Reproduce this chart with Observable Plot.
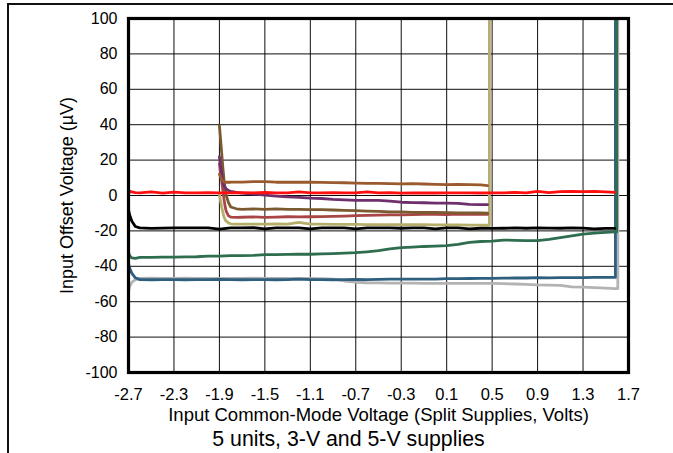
<!DOCTYPE html>
<html>
<head>
<meta charset="utf-8">
<script src="https://cdn.jsdelivr.net/npm/d3@7"></script>
<script src="https://cdn.jsdelivr.net/npm/@observablehq/plot@0.6"></script>
<style>
  html, body { margin: 0; padding: 0; background: #fff; }
  #wrap { position: relative; width: 673px; height: 453px; overflow: hidden; }
  #wrap svg { display: block; }
  #edge { position: absolute; left: 7px; top: 3px; right: -5px; bottom: -5px;
          border-top: 2px solid #111; border-left: 2px solid #111; pointer-events: none; }
</style>
</head>
<body>
<div id="wrap"><div id="edge"></div></div>
<script>
// ---- tick values / labels ----
const xTicks = [-2.7, -2.3, -1.9, -1.5, -1.1, -0.7, -0.3, 0.1, 0.5, 0.9, 1.3, 1.7];
const xTickLabels = ["-2.7", "-2.3", "-1.9", "-1.5", "-1.1", "-0.7", "-0.3", "0.1", "0.5", "0.9", "1.3", "1.7"];
const yTicks = [-100, -80, -60, -40, -20, 0, 20, 40, 60, 80, 100];
const yTickLabels = ["-100", "-80", "-60", "-40", "-20", "0", "20", "40", "60", "80", "100"];
const xLabel = "Input Common-Mode Voltage (Split Supplies, Volts)";
const yLabel = "Input Offset Voltage (\u00B5V)";
const captionText = "5 units, 3-V and 5-V supplies";

// ---- 5-V supply units (sweep -2.7 .. 1.6 V) ----
const x5 = [-2.7, -2.69, -2.67, -2.64, -2.6, -2.5, -2.4, -2.3, -2.2, -2.1, -2.0, -1.9, -1.8, -1.7, -1.6, -1.5, -1.4, -1.3, -1.2, -1.1, -1.0, -0.9, -0.8, -0.7, -0.6, -0.5, -0.4, -0.3, -0.2, -0.1, 0.0, 0.1, 0.2, 0.3, 0.4, 0.5, 0.6, 0.7, 0.8, 0.9, 1.0, 1.1, 1.2, 1.3, 1.4, 1.5, 1.58];
const red5 = [0.5, 2.3, 2.0, 1.6, 1.5, 2.0, 1.4, 1.9, 1.5, 1.5, 1.6, 1.5, 1.5, 1.6, 1.5, 1.7, 1.5, 1.5, 2.1, 1.5, 1.5, 1.6, 1.5, 1.5, 2.0, 1.5, 1.6, 1.3, 1.4, 1.5, 1.4, 1.5, 1.5, 1.5, 1.4, 1.5, 1.5, 1.8, 1.5, 2.3, 1.6, 2.2, 2.3, 2.2, 2.3, 2.0, 1.8];
const black5 = [-8, -11, -14.5, -17.5, -18.3, -18.6, -18.4, -18.3, -18.3, -18.3, -18.3, -19.0, -18.3, -18.3, -18.2, -18.8, -18.3, -18.3, -18.3, -18.9, -18.3, -18.3, -18.3, -18.9, -18.3, -18.3, -18.3, -18.5, -18.3, -18.3, -18.8, -18.3, -18.3, -18.8, -18.5, -18.6, -18.5, -18.3, -18.5, -18.3, -18.4, -18.5, -18.3, -18.4, -18.8, -18.6, -18.6];
const green5 = [-32, -34, -35.3, -35.5, -35, -35, -34.8, -34.8, -34.7, -34.6, -34.3, -34.2, -34, -34, -33.8, -33.4, -33.4, -33.3, -33.2, -33.2, -33.0, -32.8, -32.6, -32.3, -31.8, -31.2, -30.2, -29.5, -29.2, -28.8, -28.6, -28.3, -27.6, -26.5, -26, -25.8, -25.2, -25.3, -25.5, -25.5, -24.8, -23.8, -22.8, -21.8, -21.2, -20.8, -20.6];
const blue5 = [-38.5, -41, -44, -46.5, -47.5, -47.6, -47.5, -47.5, -47.6, -47.5, -47.5, -47.4, -47.5, -47.6, -47.5, -47.5, -47.6, -47.5, -47.3, -47.5, -47.5, -47.6, -47.5, -47.4, -47.5, -47.4, -47.3, -47.3, -47.2, -47.3, -47.2, -47.0, -47.0, -46.9, -46.8, -46.8, -46.7, -46.6, -46.6, -46.4, -46.5, -46.4, -46.4, -46.4, -46.3, -46.3, -46.3];
const gray5 = [-54, -51.5, -49, -47.5, -46.8, -46.7, -46.8, -46.8, -46.7, -46.8, -46.8, -46.9, -46.8, -46.8, -46.7, -46.8, -46.8, -46.9, -46.8, -46.8, -47.0, -47.2, -48.3, -49.0, -49.3, -49.4, -49.5, -49.5, -49.5, -49.6, -49.6, -49.6, -49.6, -49.7, -49.7, -49.6, -49.8, -50.0, -50.2, -50.5, -50.6, -50.8, -51.6, -51.8, -52.0, -52.3, -52.6];
// final rise at the positive rail
const blueRiseX = [1.585, 1.585];
const blueRiseY = [-46.3, 100];
const greenRiseX = [1.596, 1.596];
const greenRiseY = [-20.6, 100];
const grayRiseX = [1.606, 1.606];
const grayRiseY = [-52.6, 100];

// ---- 3-V supply units (sweep -1.9 .. 0.47 V) ----
const x3 = [-1.9, -1.89, -1.88, -1.87, -1.86, -1.85, -1.84, -1.82, -1.8, -1.75, -1.7, -1.6, -1.5, -1.4, -1.3, -1.2, -1.1, -1.0, -0.9, -0.8, -0.7, -0.6, -0.5, -0.4, -0.3, -0.2, -0.1, 0.0, 0.1, 0.2, 0.3, 0.4, 0.46];
const darkBrown3 = [39.5, 32, 24, 16, 9, 4, 0, -4, -6.5, -7.5, -7.8, -7.6, -7.8, -7.6, -7.8, -7.8, -8, -8, -8.2, -8.4, -8.6, -8.8, -9, -9.2, -9.3, -9.5, -9.6, -9.6, -9.7, -9.8, -9.8, -9.9, -10];
const redBrown3 = [18, 13, 8, 3, -2, -6, -9, -11.5, -12.2, -12.4, -12.3, -12.1, -12.4, -12.2, -12.0, -12.1, -12, -11.9, -11.8, -11.6, -11.4, -11.2, -11.1, -11.0, -10.9, -10.8, -10.6, -10.7, -10.8, -10.5, -10.6, -10.5, -10.6];
const purple3 = [22, 17, 12, 8, 5.5, 4.5, 3.8, 2.8, 2.3, 1.8, 1.4, 0.8, 0.2, -0.3, -0.8, -1.1, -1.5, -1.7, -2.2, -2.5, -2.7, -2.8, -2.8, -3.2, -3.8, -4.0, -4.1, -4.3, -4.3, -4.5, -5.0, -5.1, -5.2];
const lightBrown3 = [12, 10.5, 9.2, 8.2, 7.7, 7.5, 7.5, 7.5, 7.5, 7.6, 7.5, 7.8, 7.8, 7.5, 7.5, 7.5, 7.5, 7.4, 7.3, 7.2, 7.0, 6.9, 6.9, 6.7, 6.6, 6.7, 6.5, 6.3, 6.2, 6.3, 6.1, 6.0, 5.6];
const yellow3 = [0.5, -3, -6.5, -9.5, -12, -13.5, -14.5, -15.5, -16, -16.2, -16.2, -16.2, -16.2, -16.1, -16.2, -15.2, -16.2, -16.2, -16.3, -16.3, -16.3, -16.4, -16.4, -16.4, -16.5, -16.5, -16.5, -16.6, -16.6, -16.6, -16.7, -16.7, -16.8];
const yellowRiseX = [0.476, 0.476];
const yellowRiseY = [-16.8, 100];

// ---- build series (drawing order = listing order) ----
const series = [
  {key: "yellow", color: "#b6ae6a", xs: [...x3, ...yellowRiseX], ys: [...yellow3, ...yellowRiseY]},
  {key: "redBrown", color: "#a84646", xs: x3, ys: redBrown3},
  {key: "darkBrown", color: "#7b5a30", xs: x3, ys: darkBrown3},
  {key: "purple", color: "#6e2f6c", xs: x3, ys: purple3},
  {key: "lightBrown", color: "#9b5a2e", xs: x3, ys: lightBrown3},
  {key: "gray", color: "#b3b3b3", xs: [...x5, ...grayRiseX], ys: [...gray5, ...grayRiseY]},
  {key: "blue", color: "#2e5f7e", xs: [...x5, ...blueRiseX], ys: [...blue5, ...blueRiseY]},
  {key: "green", color: "#2e6e4f", xs: [...x5, ...greenRiseX], ys: [...green5, ...greenRiseY]},
  {key: "black", color: "#000000", xs: x5, ys: black5},
  {key: "red", color: "#ff1010", xs: x5, ys: red5}
];
const lineMarks = series.map(s =>
  Plot.line(s.xs.map((x, i) => ({x, y: s.ys[i]})), {x: "x", y: "y", stroke: s.color, strokeWidth: 2.8, strokeLinejoin: "round", clip: true})
);

const chart = Plot.plot({
  width: 673,
  height: 453,
  marginLeft: 128,
  marginRight: 45,
  marginTop: 18,
  marginBottom: 81,
  style: {fontFamily: "'Liberation Sans', Arial, sans-serif", background: "transparent", color: "#000"},
  x: {domain: [-2.7, 1.7]},
  y: {domain: [-100, 100]},
  marks: [
    Plot.ruleX(xTicks, {stroke: "#000", strokeWidth: 1, strokeOpacity: 0.95}),
    Plot.ruleY(yTicks, {stroke: "#000", strokeWidth: 1, strokeOpacity: 0.95}),
    ...lineMarks,
    Plot.frame({stroke: "#000", strokeWidth: 3.2}),
    Plot.axisX({ticks: xTicks, tickSize: 0, tickPadding: 16, fontSize: 16.5, label: null,
      tickFormat: (d, i) => xTickLabels[i]}),
    Plot.axisY({ticks: yTicks, tickSize: 0, tickPadding: 11, fontSize: 16, label: null,
      tickFormat: (d, i) => yTickLabels[i]}),
    Plot.text([xLabel], {frameAnchor: "bottom", textAnchor: "middle", dy: 48, fontSize: 18.5, fill: "#000"}),
    Plot.text([yLabel], {frameAnchor: "left", textAnchor: "middle", rotate: -90, dx: -61, fontSize: 18, fill: "#000"}),
    Plot.text([captionText], {frameAnchor: "bottom", textAnchor: "middle", dx: -30, dy: 73, fontSize: 21.3, fill: "#000"})
  ]
});
document.getElementById("wrap").prepend(chart);
</script>
</body>
</html>
